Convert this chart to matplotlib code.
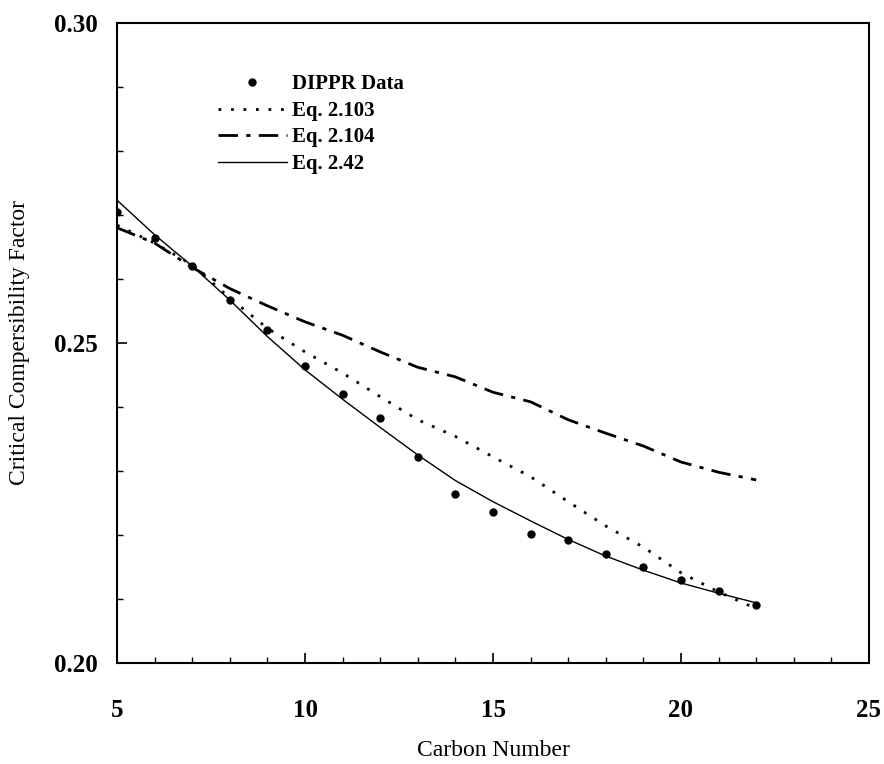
#!/usr/bin/env python3

# plot.py
#
# Critical compressibility factor vs. carbon number, DIPPR data and three correlations
import matplotlib
matplotlib.use('Agg')
import matplotlib.pyplot as plt
from matplotlib.ticker import MultipleLocator, FormatStrFormatter
import numpy as np

# Carbon numbers for all series
carbon = np.arange(5, 23)

# DIPPR data points
dippr = [0.2705, 0.2664, 0.2621, 0.2567, 0.2520, 0.2464, 0.2420, 0.2383, 0.2322,
         0.2264, 0.2236, 0.2202, 0.2192, 0.2170, 0.2150, 0.2130, 0.2112, 0.2091]

# Eq. 2.103 (dotted)
eq_2103 = [0.2684, 0.2656, 0.2622, 0.2570, 0.2523, 0.2486, 0.2453, 0.2416, 0.2380,
           0.2354, 0.2322, 0.2291, 0.2252, 0.2214, 0.2181, 0.2141, 0.2111, 0.2085]

# Eq. 2.104 (dash-dot)
eq_2104 = [0.2680, 0.2656, 0.2618, 0.2585, 0.2558, 0.2533, 0.2512, 0.2486, 0.2462,
           0.2447, 0.2423, 0.2408, 0.2380, 0.2359, 0.2339, 0.2314, 0.2298, 0.2286]

# Eq. 2.42 (solid)
eq_242 = [0.2723, 0.2669, 0.2620, 0.2567, 0.2510, 0.2458, 0.2412, 0.2368, 0.2325,
          0.2285, 0.2252, 0.2222, 0.2193, 0.2167, 0.2145, 0.2125, 0.2109, 0.2094]

LABELS = ['DIPPR Data', 'Eq. 2.103', 'Eq. 2.104', 'Eq. 2.42']


def plot():
    plt.rcParams['font.family'] = ['Liberation Serif', 'DejaVu Serif']

    fig = plt.figure(figsize=(8.84, 7.64), dpi=100)
    ax = fig.add_axes([0.1324, 0.1322, 0.8506, 0.8378])

    ax.plot(carbon, dippr, 'o', color='black', markersize=5, label=LABELS[0], zorder=5)
    ax.plot(carbon, eq_2103, color='black', linewidth=2.0, linestyle=(0, (1, 3.5)),
            label=LABELS[1])
    ax.plot(carbon, eq_2104, color='black', linewidth=2.0, linestyle=(0, (7, 3, 1.5, 3)),
            label=LABELS[2])
    ax.plot(carbon, eq_242, color='black', linewidth=1.0, label=LABELS[3])

    # Axes formatting
    ax.set_xlim(5, 25)
    ax.set_ylim(0.20, 0.30)
    ax.xaxis.set_major_locator(MultipleLocator(5))
    ax.xaxis.set_minor_locator(MultipleLocator(1))
    ax.yaxis.set_major_locator(MultipleLocator(0.05))
    ax.yaxis.set_minor_locator(MultipleLocator(0.01))
    ax.yaxis.set_major_formatter(FormatStrFormatter('%.2f'))

    ax.tick_params(which='both', direction='in', top=False, right=False)
    ax.tick_params(which='major', length=7, width=1.2)
    ax.tick_params(which='minor', length=4, width=1.0)
    ax.tick_params(axis='x', which='major', pad=26)
    ax.tick_params(axis='y', which='major', pad=14)
    for label in ax.get_xticklabels() + ax.get_yticklabels():
        label.set_fontsize(18)
        label.set_fontweight('bold')

    for spine in ax.spines.values():
        spine.set_linewidth(1.5)

    ax.set_xlabel('Carbon Number', fontsize=17, labelpad=13)
    ax.set_ylabel('Critical Compersibility Factor', fontsize=17, labelpad=17)

    ax.legend(loc='upper left', bbox_to_anchor=(0.134, 0.92), frameon=False,
              prop={'size': 15, 'weight': 'bold'}, handlelength=3.3,
              handletextpad=0.25, labelspacing=0.32, borderaxespad=0, borderpad=0)

    plt.savefig('out.png', dpi=100)


if __name__ == '__main__':
    plot()
